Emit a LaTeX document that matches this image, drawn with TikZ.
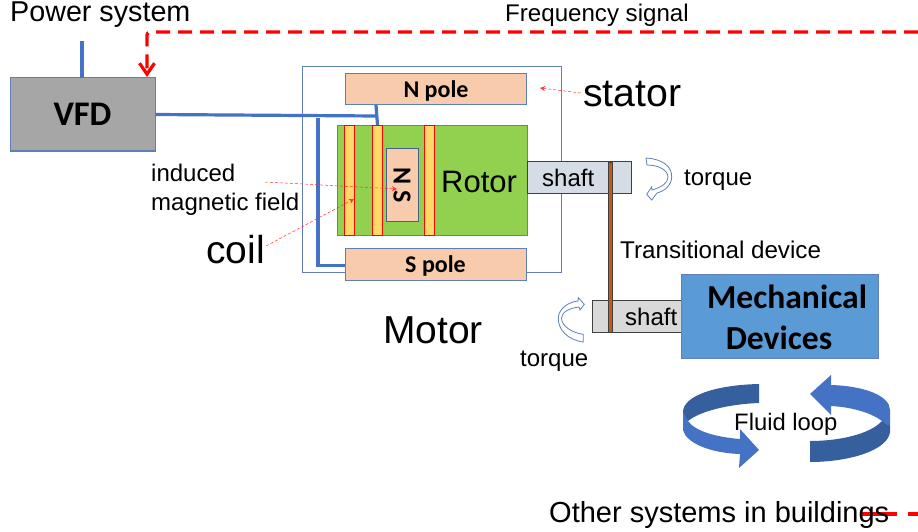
\documentclass[tikz,border=0pt]{standalone}
\usepackage{fontspec}
\setmainfont{Liberation Sans}
\newfontfamily\califont{Carlito}
\usetikzlibrary{arrows.meta}
\definecolor{boxline}{HTML}{5F80B6}
\definecolor{wire}{HTML}{4472C4}
\definecolor{peach}{HTML}{F8CBAD}
\definecolor{rotorgreen}{HTML}{92D050}
\definecolor{coilyellow}{HTML}{FFD966}
\definecolor{brown}{HTML}{C55A11}
\definecolor{loopdark}{HTML}{365F9E}
\definecolor{steel}{HTML}{D6DCE5}
\definecolor{devblue}{HTML}{5B9BD5}
\tikzset{
	box/.style={draw=boxline, line width=1pt, inner sep=0pt},
	coilbar/.style={draw=red, fill=coilyellow, line width=1pt, inner sep=0pt, minimum width=10pt, minimum height=110pt},
	shaftbox/.style={draw=black!75, line width=1pt, inner sep=0pt},
	bluewire/.style={draw=wire, line width=3.2pt},
	signal/.style={draw=red, line width=3.2pt, dash pattern=on 14pt off 8pt},
	pointer/.style={draw=red!80, line width=0.5pt, densely dashed, -{Stealth[length=5pt,width=5pt]}},
	txt/.style={anchor=base west, inner sep=0pt, font=\fontsize{#1}{#1}\selectfont},
	boldtxt/.style={inner sep=0pt, font=\califont\bfseries\fontsize{#1}{#1}\selectfont},
	twist/.style={draw=boxline, fill=white, line width=0.8pt}
}
\begin{document}
\begin{tikzpicture}[x=1pt,y=-1pt]
	\useasboundingbox (0,0) rectangle (918,532);
	\node[box, minimum width=259pt, minimum height=205pt] (stator) at (431.5,169.5) {};%outer frame

	\node[box, fill=black!35, minimum width=145pt, minimum height=73pt, boldtxt=34.5, text height=21pt, text depth=0pt] (vfd) at (82.5,114.5) {VFD};
	\node[box, fill=peach, minimum width=181pt, minimum height=31pt, boldtxt=24, text height=16pt, text depth=0pt] (npole) at (436,89.5) {N pole};
	\node[box, fill=peach, minimum width=181pt, minimum height=32pt, boldtxt=24, text height=16pt, text depth=0pt] (spole) at (435.5,264) {S pole};

	\node[box, fill=rotorgreen, minimum width=190pt, minimum height=110pt] (rotor) at (432,180.5) {};
	\node[coilbar] (coila) at (349.5,180.5) {};
	\node[coilbar] (coilb) at (377.5,180.5) {};
	\node[coilbar] (coilc) at (429.5,180.5) {};
	\node[box, draw=black!25!boxline, fill=peach, minimum width=32pt, minimum height=72pt] (magnet) at (402,185) {};
	\node[boldtxt=26, rotate=-90] (magnettxt) at (402,185) {N S};
	\node[txt=31] (rotortxt) at (441,192) {Rotor};

	\node[shaftbox, fill=steel, minimum width=104pt, minimum height=32pt] (shafta) at (579,177.5) {};
	\node[shaftbox, fill=black!15, minimum width=89pt, minimum height=32pt] (shaftb) at (636.5,316) {};
	\node[shaftbox, fill=brown, minimum width=4pt, minimum height=170pt] (device) at (610,247) {};%Transitional device
	\node[txt=24] (shaftatxt) at (542,186) {shaft};
	\node[txt=24] (shaftbtxt) at (625,325) {shaft};

	\node[box, fill=devblue, minimum width=197pt, minimum height=84pt] (mech) at (779.5,316) {};
	\node[boldtxt=33.6] (mechtxta) at (787,297) {Mechanical};
	\node[boldtxt=33.6] (mechtxtb) at (779,338) {Devices};

	\coordinate (powerin) at (82,41);
	\coordinate (powerdrop) at (82,78);
	\draw[bluewire] (powerin) -- (powerdrop);%feed into VFD

	\coordinate (wirea) at (377,116);
	\coordinate (wireb) at (376,105);
	\coordinate (wirec) at (318,118);
	\coordinate (wired) at (318,265.5);
	\draw[bluewire] (vfd.east) -- (wirea);
	\draw[bluewire] (wireb) -- (coilb.north);
	\draw[bluewire, line join=miter] (wirec) -- (wired) -- (spole.west |- wired);

	\coordinate (sigright) at (918,32);
	\coordinate (sigcorner) at (147,32);
	\coordinate (sigend) at (147,77);
	\draw[signal, rounded corners=3pt, -{Straight Barb[length=11pt,width=15pt]}] (sigright) -- (sigcorner) -- (sigend);
	\coordinate (otherstart) at (860,514);
	\coordinate (otherend) at (918,514);
	\draw[signal, dash pattern=on 37pt off 11pt] (otherstart) -- (otherend);

	\node[txt=28.7] (power) at (10,22) {Power system};
	\node[txt=24.1] (freq) at (505,22) {Frequency signal};
	\node[txt=39.2] (statortxt) at (583,107) {stator};
	\node[txt=39] (motor) at (383,343) {Motor};
	\node[txt=39] (coil) at (206,263) {coil};
	\node[txt=24] (fielda) at (151,181) {induced};
	\node[txt=24] (fieldb) at (151,210) {magnetic field};
	\node[txt=24.2] (transit) at (620,258) {Transitional device};
	\node[txt=24] (torquea) at (684,185) {torque};
	\node[txt=24] (torqueb) at (520,366) {torque};
	\node[txt=29] (other) at (549,522) {Other systems in buildings};

	\coordinate (stata) at (581,93);
	\coordinate (statb) at (540,88);
	\draw[pointer] (stata) -- (statb);
	\coordinate (fielda1) at (265,182);
	\coordinate (fielda2) at (397,189);
	\draw[pointer] (fielda1) -- (fielda2);
	\coordinate (coila1) at (266,246);
	\coordinate (coila2) at (354,199);
	\draw[pointer] (coila1) -- (coila2);

	\draw[twist] (646,158) .. controls (662,159) and (672,166) .. (671.7,177) .. controls (671.5,185) and (665,191) .. (657,193) -- (651.7,200) -- (646.7,194.3) -- (651.7,187) -- (652,190) .. controls (662,187) and (668,183) .. (668,177) .. controls (668,170) and (658,165) .. (647,165) -- cycle;%upper torque
	\draw[twist] (583.3,342) .. controls (568,340) and (558,330) .. (558.3,318) .. controls (558.5,309) and (568,302) .. (578,301) -- (578.3,297.7) -- (584.3,304.3) -- (580,310) -- (579,307) .. controls (570,308) and (561.5,312) .. (561.5,318) .. controls (561.5,326) and (572,333) .. (583.3,334.3) -- cycle;%lower torque

	\fill[loopdark] (759,384) .. controls (715,385) and (683,396) .. (683,412) -- (683,416) -- (688,421) .. controls (700,411) and (730,404) .. (759,403) -- cycle;
	\fill[wire] (683,412) -- (683,430) .. controls (686,443) and (710,453) .. (740,454) -- (739,468) -- (759,450) -- (740,429) -- (740,439) .. controls (715,437) and (695,431) .. (688,421) -- cycle;
	\fill[wire] (810,394) -- (831,375) -- (831,385) .. controls (865,386) and (890,396) .. (890,410) -- (890,426) -- (882,421) .. controls (870,412) and (850,407) .. (831,406) -- (831,415) -- cycle;
	\fill[loopdark] (882,421) -- (890,426) -- (890,432) .. controls (888,450) and (850,462) .. (810,462) -- (810,441) .. controls (840,441) and (870,434) .. (882,421) -- cycle;
	\node[txt=23.8] (fluid) at (734,430) {Fluid loop};
\end{tikzpicture}
\end{document}
